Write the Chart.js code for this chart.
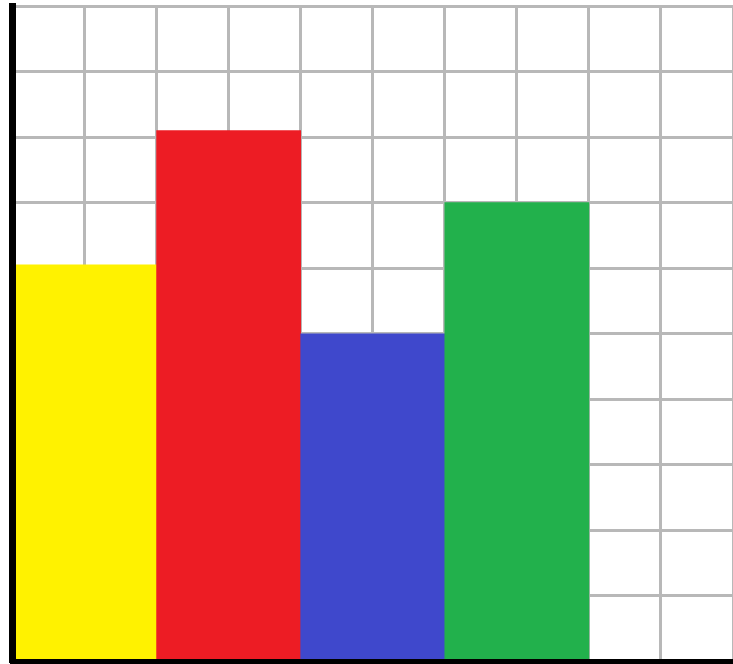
<!DOCTYPE html>
<html>
<head>
<meta charset="utf-8">
<script src="https://cdn.jsdelivr.net/npm/chart.js@4"></script>
<style>
  html, body { margin: 0; padding: 0; background: #ffffff; overflow: hidden; }
  #wrap { width: 733px; height: 664px; }
</style>
</head>
<body>
<div id="wrap"><canvas id="c" width="733" height="664"></canvas></div>
<script>
const categories = ['A', 'B', 'C', 'D', 'E'];
const values = [6.05, 8.1, 5, 7, null];
const barColors = ['#FFF200', '#ED1C24', '#3F48CC', '#22B14C', '#ffffff'];
const yTicks = { min: 0, max: 10, step: 1 };
const xGrid = { min: 0, max: 10, step: 1 };

const gridColor = 'rgb(184,184,184)';

new Chart(document.getElementById('c'), {
  type: 'bar',
  data: {
    labels: categories,
    datasets: [{
      data: values,
      backgroundColor: barColors,
      borderWidth: 0,
      categoryPercentage: 1,
      barPercentage: 1
    }]
  },
  options: {
    responsive: false,
    animation: false,
    devicePixelRatio: 1,
    layout: { padding: { left: 12.5, top: 6, right: 0, bottom: 2.5 } },
    plugins: { legend: { display: false }, tooltip: { enabled: false } },
    scales: {
      x: {
        type: 'category',
        position: 'bottom',
        grid: { display: false, drawTicks: false },
        ticks: { display: false },
        border: { display: true, color: '#000000', width: 5, z: 1 }
      },
      xg: {
        type: 'linear',
        position: 'bottom',
        offset: false,
        min: xGrid.min,
        max: xGrid.max,
        ticks: { display: false, stepSize: xGrid.step },
        grid: { color: gridColor, lineWidth: 3, drawTicks: false, offset: false },
        border: { display: false }
      },
      y: {
        min: yTicks.min,
        max: yTicks.max,
        ticks: { display: false, stepSize: yTicks.step },
        grid: { color: gridColor, lineWidth: 3, drawTicks: false },
        border: { display: true, color: '#000000', width: 7, z: 1 }
      }
    }
  }
});
</script>
</body>
</html>
